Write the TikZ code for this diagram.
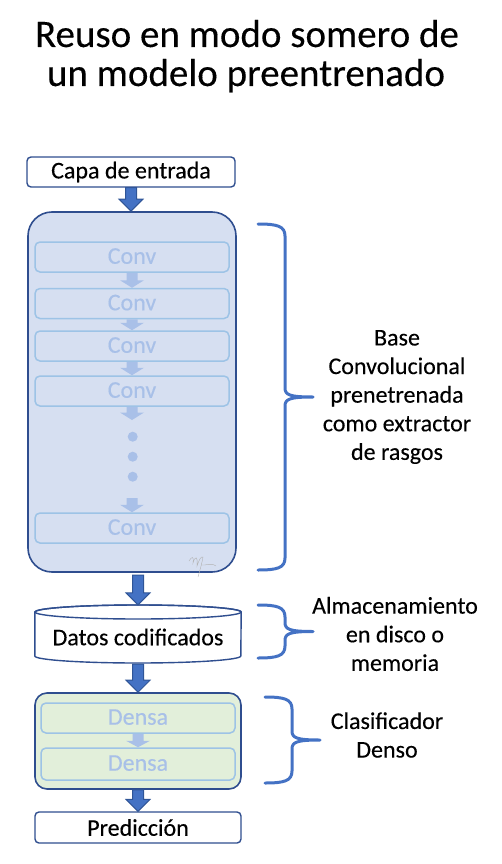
\documentclass[tikz,border=0pt]{standalone}
\usepackage{fontspec}
\setmainfont{Carlito}[FakeBold=0.25]
\usetikzlibrary{calc}
\definecolor{dkblue}{HTML}{2F4E8F}
\definecolor{arrfill}{HTML}{4472C4}
\definecolor{arrline}{HTML}{2F5597}
\definecolor{basefill}{HTML}{D6DFF1}
\definecolor{lightline}{HTML}{9DC3E6}
\definecolor{lighttext}{HTML}{A8C0E8}
\definecolor{lightarr}{HTML}{A9C0E8}
\definecolor{greenfill}{HTML}{E2EFDA}
\definecolor{bracecol}{HTML}{4472C4}
\newcommand\blkarrow[4]{%
  \path[#3] ($(#1)+(-5.5,0)$) -- ($(#2)+(-5.5,-#4)$) -- ($(#2)+(-12,-#4)$) -- (#2)
    -- ($(#2)+(12,-#4)$) -- ($(#2)+(5.5,-#4)$) -- ($(#1)+(5.5,0)$) -- cycle;}
\newcommand\rbrc[5]{% x-left, top, bottom, x-vertical, tip-x ; tip y = mid
  \draw[bracestyle] (#1,#2) .. controls ({#4-8},#2) and (#4,{#2+2}) .. (#4,{#2+12})
    -- (#4,{(#2+#3)/2-9}) .. controls (#4,{(#2+#3)/2-2}) and ({#4+5},{(#2+#3)/2}) .. (#5,{(#2+#3)/2})
    (#5,{(#2+#3)/2}) .. controls ({#4+5},{(#2+#3)/2}) and (#4,{(#2+#3)/2+2}) .. (#4,{(#2+#3)/2+9})
    -- (#4,{#3-12}) .. controls (#4,{#3-2}) and ({#4-8},#3) .. (#1,#3);}
\newcommand\lyr[1]{\raisebox{2pt}{#1}}
\tikzset{
  txt/.style={font=\fontsize{24}{28.6}\selectfont},
  mainbox/.style={draw=dkblue, line width=1.4pt, rounded corners=4pt, fill=white, inner sep=0pt, txt},
  layerbox/.style={draw=lightline, line width=1.5pt, rounded corners=5pt, inner sep=0pt,
    minimum width=194pt, minimum height=30pt, text=lighttext, txt},
  bigarr/.style={fill=arrfill, draw=arrline, line width=1pt, line join=miter},
  smallarr/.style={fill=lightarr},
  bracestyle/.style={draw=bracecol, line width=3pt, line cap=round},
  lbl/.style={align=center, txt, inner sep=0pt},
}
\begin{document}
\begin{tikzpicture}[x=1pt, y=-1pt]
\useasboundingbox (0,0) rectangle (502,864);
% title
\node[anchor=base, font=\fontsize{39}{40}\selectfont, inner sep=0pt] (t1) at (247,47) {Reuso en modo somero de};
\node[anchor=base, font=\fontsize{39}{40}\selectfont, inner sep=0pt] (t2) at (246,86) {un modelo preentrenado};
% input
\node[mainbox, minimum width=208pt, minimum height=30pt] (inp) at (131,172) {Capa de entrada};
% base
\node[draw=dkblue, line width=1.6pt, fill=basefill, rounded corners=24pt,
      minimum width=208pt, minimum height=360pt, inner sep=0pt] (base) at (132,392) {};
\node[layerbox] (c1) at (132,257) {\lyr{Conv}};
\node[layerbox] (c2) at (132,303.5) {\lyr{Conv}};
\node[layerbox] (c3) at (132,346) {\lyr{Conv}};
\node[layerbox] (c4) at (132,391) {\lyr{Conv}};
\node[layerbox] (c5) at (132,528) {\lyr{Conv}};
\foreach \yy/\nm in {436.7/d1, 456.7/d2, 476.7/d3}
  \node[circle, fill=lightarr, minimum size=10pt, inner sep=0pt] (\nm) at (132.7,\yy) {};
\coordinate (dtop) at (132,420);
\coordinate (dbot) at (132,498);
\coordinate (c1e) at (c1.south |- c2.north);
\blkarrow{c1.south}{c1e}{smallarr}{7.5}
\coordinate (c2e) at (c2.south |- c3.north);
\blkarrow{c2.south}{c2e}{smallarr}{7.5}
\coordinate (c3e) at (c3.south |- c4.north);
\blkarrow{c3.south}{c3e}{smallarr}{7.5}
\blkarrow{c4.south}{dtop}{smallarr}{7.5}
\coordinate (c5e) at (dbot |- c5.north);
\blkarrow{dbot}{c5e}{smallarr}{7.5}
% signature
\draw[gray!60, line width=0.4pt] (189,561) .. controls (192,556) and (194,556) .. (193,563)
  .. controls (195,556) and (198,555) .. (197,566) .. controls (199,560) and (201,556) .. (203,557)
  .. controls (202,563) and (200,570) .. (198,577)
  (201,565) .. controls (206,566) and (210,562) .. (216,566);
% cylinder
\node[minimum width=206pt, minimum height=58pt, inner sep=0pt, txt] (cyl) at (138,634) {};
\path[fill=white, draw=dkblue, line width=1.4pt]
  (cyl.west |- 0,612) -- (cyl.west |- 0,656)
  arc[start angle=180, end angle=360, x radius=103pt, y radius=7pt]
  -- (cyl.east |- 0,612)
  arc[start angle=0, end angle=180, x radius=103pt, y radius=7pt] -- cycle;
\draw[dkblue, line width=1.4pt] (cyl.center |- 0,612) ellipse[x radius=103pt, y radius=7pt];
\node[txt, inner sep=0pt] (cyltxt) at (138,637) {Datos codificados};
% dense
\node[draw=dkblue, line width=1.6pt, fill=greenfill, rounded corners=12pt,
      minimum width=206pt, minimum height=96pt, inner sep=0pt] (dense) at (138,741) {};
\node[layerbox] (de1) at (138,718) {\lyr{Densa}};
\node[layerbox, minimum height=32pt] (de2) at (138,764) {\lyr{Densa}};
\coordinate (de1e) at (de1.south |- de2.north);
\blkarrow{de1.south}{de1e}{smallarr}{6.5}
% prediction
\node[mainbox, minimum width=206pt, minimum height=31pt] (pred) at (138,827.5) {Predicción};
% big arrows
\coordinate (a1e) at (inp.south |- base.north);
\blkarrow{inp.south}{a1e}{bigarr}{12}
\coordinate (a2s) at (cyl.north |- 0,575);
\blkarrow{a2s}{cyl.north}{bigarr}{12}
\coordinate (a3s) at (cyl.south |- 0,664);
\coordinate (a3e) at (cyl.south |- dense.north);
\blkarrow{a3s}{a3e}{bigarr}{12}
\coordinate (a4e) at (dense.south |- pred.north);
\blkarrow{dense.south}{a4e}{bigarr}{12}
% braces
\rbrc{258}{224}{570}{285}{313}
\rbrc{258}{605}{658}{285}{313}
\rbrc{265}{697}{783}{292}{320}
% labels
\node[lbl] (l1) at (397,397) {Base\\Convolucional\\prenetrenada\\como extractor\\de rasgos};
\node[lbl] (l2) at (395,634) {Almacenamiento\\en disco o\\memoria};
\node[lbl] (l3) at (387,735) {Clasificador\\Denso};
\end{tikzpicture}
\end{document}
